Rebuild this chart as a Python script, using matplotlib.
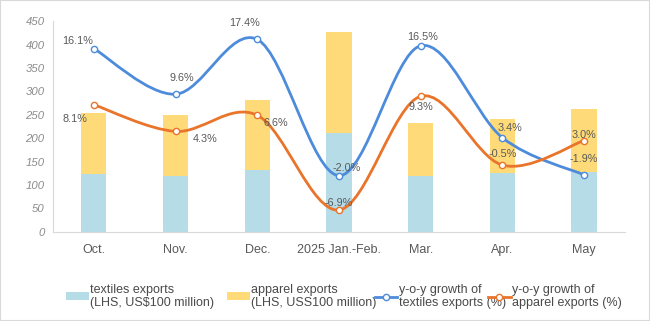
import numpy as np
import matplotlib.pyplot as plt
from matplotlib.path import Path
from matplotlib.patches import PathPatch, Patch, Rectangle
from matplotlib.lines import Line2D

plt.rcParams['font.family'] = ['Liberation Sans', 'DejaVu Sans']

# data
months = ['Oct.', 'Nov.', 'Dec.', '2025 Jan.-Feb.', 'Mar.', 'Apr.', 'May']
textiles = [123, 120, 131, 211, 120, 125, 127]
apparel = [130, 130, 150, 216, 112, 117, 135]
textiles_growth = [16.1, 9.6, 17.4, -2.0, 16.5, 3.4, -1.9]
apparel_growth = [8.1, 4.3, 6.6, -6.9, 9.3, -0.5, 3.0]

# label offsets in pixels (dx, dy) for each point
textiles_offsets = [(-16, 8), (6, 16), (-13, 16), (8, 8), (2, 9), (8, 10), (0, 16)]
apparel_offsets = [(-19, -14), (30, -8), (19, -8), (0, 7), (0, -11), (0, 11), (0, 6)]

c_bar1 = '#b6dce8'
c_bar2 = '#fedb78'
c_line1 = '#4d8bdb'
c_line2 = '#e9742a'
c_text = '#595959'


def smooth_path(xs, ys):
    # catmull-rom style bezier through the points, like office "smoothed line"
    pts = np.column_stack([xs, ys]).astype(float)
    n = len(pts)
    verts = [pts[0]]
    codes = [Path.MOVETO]
    for i in range(n - 1):
        p_prev = pts[i - 1] if i > 0 else pts[i]
        p_next2 = pts[i + 2] if i + 2 < n else pts[i + 1]
        c1 = pts[i] + (pts[i + 1] - p_prev) / 6
        c2 = pts[i + 1] - (p_next2 - pts[i]) / 6
        verts += [c1, c2, pts[i + 1]]
        codes += [Path.CURVE4] * 3
    return Path(verts, codes)


fig = plt.figure(figsize=(6.5, 3.21), dpi=100)
ax = fig.add_axes([0.0815, 0.278, 0.88, 0.656])
x = np.arange(len(months))

ax.bar(x, textiles, width=0.31, color=c_bar1, zorder=2)
ax.bar(x, apparel, width=0.31, bottom=textiles, color=c_bar2, zorder=2)

ax.set_xlim(-0.5, len(months) - 0.5)
ax.set_ylim(0, 450)
ax.set_yticks(range(0, 451, 50))
ax.set_xticks(x, months)
ax.tick_params(axis='y', length=0, pad=6, labelsize=8.2, labelcolor='#8c8c8c')
ax.tick_params(axis='x', length=0, pad=9, labelsize=9, labelcolor=c_text)
for lab in ax.get_yticklabels():
    lab.set_fontstyle('italic')
for s in ['top', 'right']:
    ax.spines[s].set_visible(False)
ax.spines['left'].set_color('#d9d9d9')
ax.spines['bottom'].set_color('#d9d9d9')

# hidden right axis for the growth rates
ax2 = ax.twinx()
ax2.set_ylim(-10, 20)
ax2.axis('off')

for vals, col, offs in [(textiles_growth, c_line1, textiles_offsets),
                        (apparel_growth, c_line2, apparel_offsets)]:
    ax2.add_patch(PathPatch(smooth_path(x, vals), facecolor='none',
                            edgecolor=col, lw=2, zorder=3))
    ax2.plot(x, vals, ls='none', marker='o', ms=4.5, mfc='white', mec=col,
             mew=1, zorder=4)
    for xi, v, (dx, dy) in zip(x, vals, offs):
        ax2.annotate(f'{v:.1f}%', (xi, v), xytext=(dx, dy),
                     textcoords='offset pixels', ha='center', va='center',
                     fontsize=7.8, color=c_text, zorder=5)

# legend, one small legend per entry so the spacing matches
entries = [
    (Patch(facecolor=c_bar1), 'textiles exports\n(LHS, US$100 million)', 66),
    (Patch(facecolor=c_bar2), 'apparel exports\n(LHS, USS100 million)', 227),
    (Line2D([], [], color=c_line1, lw=2, marker='o', ms=4.5, mfc='white', mec=c_line1),
     'y-o-y growth of\ntextiles exports (%)', 375),
    (Line2D([], [], color=c_line2, lw=2, marker='o', ms=4.5, mfc='white', mec=c_line2),
     'y-o-y growth of\napparel exports (%)', 488),
]
for h, lab, px in entries:
    leg = fig.legend([h], [lab], loc='upper left', bbox_to_anchor=(px / 650, 0.115),
                     frameon=False, borderpad=0, borderaxespad=0, handlelength=1.8,
                     handleheight=0.6, handletextpad=0.15, fontsize=9,
                     labelcolor='#4a4a4a')
    for t in leg.get_texts():
        t.set_linespacing(1.05)

fig.patches.append(Rectangle((0, 0), 1, 1, transform=fig.transFigure,
                             fill=False, edgecolor='#d9d9d9', lw=1.5))

fig.savefig('out.png', dpi=100)
